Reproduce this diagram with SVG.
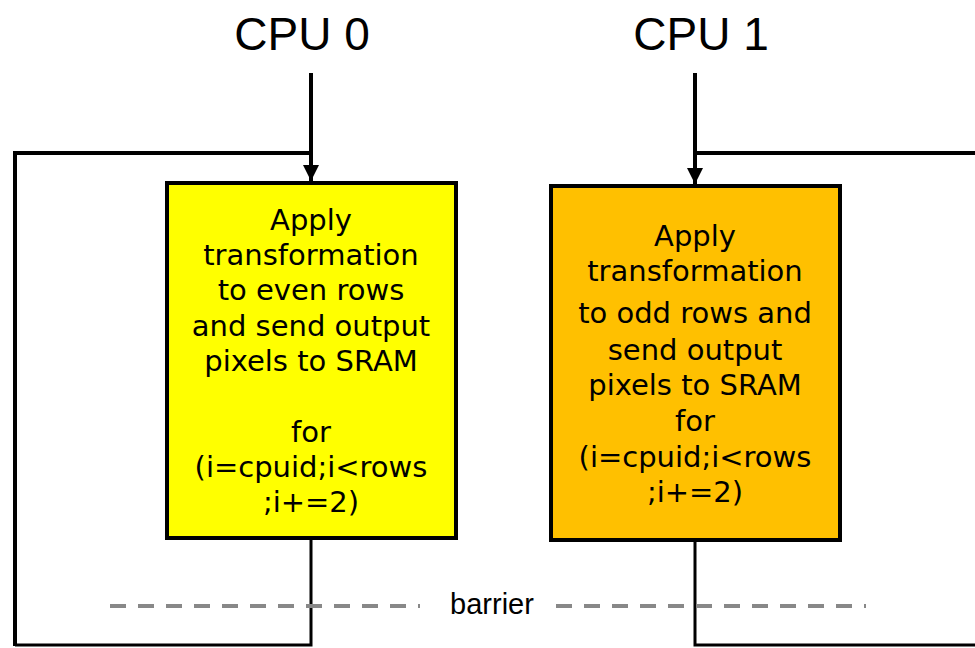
<svg xmlns="http://www.w3.org/2000/svg" width="975" height="648" viewBox="0 0 975 648">
  <defs>
    <marker id="arrow" viewBox="0 0 16 16" markerWidth="16" markerHeight="16" refX="16" refY="8" orient="auto" markerUnits="userSpaceOnUse">
      <path d="M0,0 L16,8 L0,16 Z" fill="#000"/>
    </marker>
    <style>
      .cpu { font-family: "Liberation Sans", Arial, sans-serif; font-size: 46px; fill: #000; text-anchor: middle; }
      .task { font-family: "DejaVu Sans", Verdana, sans-serif; font-size: 29px; fill: #000; text-anchor: middle; }
      .lbl { font-family: "Liberation Sans", Arial, sans-serif; font-size: 29px; fill: #000; text-anchor: middle; }
      .box { stroke: #000; stroke-width: 4; }
      .wire { fill: none; stroke: #000; stroke-width: 4; }
      .wire-thin { fill: none; stroke: #000; stroke-width: 3; }
      .barrier { fill: none; stroke: #888; stroke-width: 4; stroke-dasharray: 16 12; }
    </style>
  </defs>

  <!-- processor labels -->
  <text class="cpu" x="302" y="50">CPU 0</text>
  <text class="cpu" x="701" y="50">CPU 1</text>

  <!-- connectors -->
  <g id="connectors">
    <!-- CPU 0 entry and loop back -->
    <line class="wire" x1="311" y1="73" x2="311" y2="181" marker-end="url(#arrow)"/>
    <polyline class="wire" points="311,153 15,153 15,646"/>
    <polyline class="wire-thin" points="311,539 311,645 15,645"/>
    <!-- CPU 1 entry and loop back -->
    <line class="wire" x1="695" y1="73" x2="695" y2="184" marker-end="url(#arrow)"/>
    <polyline class="wire" points="695,153 975,153"/>
    <polyline class="wire-thin" points="695,541 695,645 975,645"/>
    <!-- barrier -->
    <line class="barrier" x1="110" y1="606" x2="420" y2="606"/>
    <line class="barrier" x1="556" y1="606" x2="866" y2="606"/>
  </g>

  <text class="lbl" x="492" y="614">barrier</text>

  <g id="cpu0-task">
    <rect class="box" x="167" y="183" width="289" height="355" fill="#FFFF00"/>
    <text class="task" x="311" y="230">Apply</text>
    <text class="task" x="311" y="265">transformation</text>
    <text class="task" x="311" y="300">to even rows</text>
    <text class="task" x="311" y="336">and send output</text>
    <text class="task" x="311" y="371">pixels to SRAM</text>
    <text class="task" x="311" y="442">for</text>
    <text class="task" x="311" y="477">(i=cpuid;i&lt;rows</text>
    <text class="task" x="311" y="512">;i+=2)</text>
  </g>

  <g id="cpu1-task">
    <rect class="box" x="551" y="186" width="289" height="354" fill="#FFC000"/>
    <text class="task" x="695" y="246">Apply</text>
    <text class="task" x="695" y="281">transformation</text>
    <text class="task" x="695" y="323">to odd rows and</text>
    <text class="task" x="695" y="360">send output</text>
    <text class="task" x="695" y="395">pixels to SRAM</text>
    <text class="task" x="695" y="431">for</text>
    <text class="task" x="695" y="467">(i=cpuid;i&lt;rows</text>
    <text class="task" x="695" y="502">;i+=2)</text>
  </g>
</svg>
